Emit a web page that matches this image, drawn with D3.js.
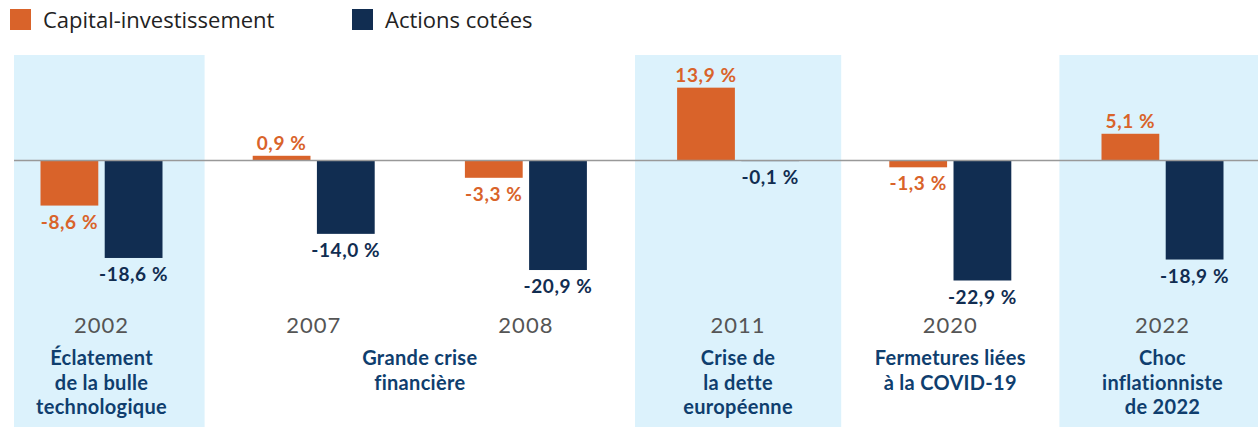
<!DOCTYPE html>
<html lang="fr">
<head>
<meta charset="utf-8">
<style>
  body { margin: 0; background: #fff; font-family: Lato, "Open Sans", sans-serif; }
  svg { display: block; }
</style>
</head>
<body>
<svg width="1258" height="427"></svg>
<script src="https://cdn.jsdelivr.net/npm/d3@7"></script>
<script>
// chart values
var years = ['2002', '2007', '2008', '2011', '2020', '2022']
var privateEquity = [-8.6, 0.9, -3.3, 13.9, -1.3, 5.1]
var publicEquity = [-18.6, -14.0, -20.9, -0.1, -22.9, -18.9]
var seriesNames = ['Capital-investissement', 'Actions cotées']
var highlighted = ['2002', '2011', '2022']
var eventYears = [['2002'], ['2007', '2008'], ['2011'], ['2020'], ['2022']]
var eventLines = [
  ['Éclatement', 'de la bulle', 'technologique'],
  ['Grande crise', 'financière'],
  ['Crise de', 'la dette', 'européenne'],
  ['Fermetures liées', 'à la COVID-19'],
  ['Choc', 'inflationniste', 'de 2022']
]

var colors = ['#d9632a', '#112d51']
var W = 1258, H = 427
var svg = d3.select('svg')

var fr = d3.formatLocale({decimal: ',', thousands: ' ', grouping: [3], currency: ['', ''], minus: '-'})
var fmt = fr.format('.1f')

var step = 212.2
var x0 = d3.scaleBand()
  .domain(years)
  .range([-4.6, -4.6 + step * years.length])
  .padding(0)

var x1 = d3.scaleBand()
  .domain(seriesNames)
  .range([x0.bandwidth() / 2 - 61, x0.bandwidth() / 2 + 61])
  .paddingInner(0.1)

var y = d3.scaleLinear()
  .domain([0, -22.9])
  .range([160.5, 280.5])

var z = d3.scaleOrdinal().domain(seriesNames).range(colors)

// highlight bands
svg.append('g').selectAll('rect')
  .data(highlighted)
  .enter().append('rect')
    .attr('x', function (d) { return Math.max(14, x0(d) + 3) })
    .attr('y', 55)
    .attr('width', function (d) {
      var a = Math.max(14, x0(d) + 3)
      var b = Math.min(W, x0(d) + x0.bandwidth() - 3)
      return b - a
    })
    .attr('height', H - 55)
    .attr('fill', '#dcf2fc')

// legend
var legend = svg.append('g')
var legendX = [10, 352]
seriesNames.forEach(function (name, i) {
  legend.append('rect')
    .attr('x', legendX[i]).attr('y', 9)
    .attr('width', 21).attr('height', 21)
    .attr('fill', z(name))
  legend.append('text')
    .attr('x', legendX[i] + 33).attr('y', 28)
    .attr('font-family', '"Open Sans", sans-serif')
    .attr('font-size', 22)
    .attr('fill', '#222')
    .text(name)
})

var rows = years.map(function (yr, i) {
  return {year: yr, values: [
    {key: seriesNames[0], value: privateEquity[i]},
    {key: seriesNames[1], value: publicEquity[i]}
  ]}
})

var groups = svg.append('g').selectAll('g')
  .data(rows)
  .enter().append('g')
    .attr('transform', function (d) { return 'translate(' + x0(d.year) + ',0)' })

groups.selectAll('rect')
  .data(function (d) { return d.values })
  .enter().append('rect')
    .attr('x', function (d) { return x1(d.key) })
    .attr('width', x1.bandwidth())
    .attr('y', function (d) { return Math.min(y(d.value), y(0)) })
    .attr('height', function (d) { return Math.max(0.6, Math.abs(y(d.value) - y(0))) })
    .attr('fill', function (d) { return z(d.key) })

// zero line
svg.append('line')
  .attr('x1', 14).attr('x2', W)
  .attr('y1', y(0)).attr('y2', y(0))
  .attr('stroke', '#999')
  .attr('stroke-width', 1.5)

groups.selectAll('text.val')
  .data(function (d) { return d.values })
  .enter().append('text')
    .attr('class', 'val')
    .attr('x', function (d) { return x1(d.key) + x1.bandwidth() / 2 })
    .attr('y', function (d) { return d.value >= 0 ? y(d.value) - 6 : y(d.value) + 23 })
    .attr('text-anchor', 'middle')
    .attr('font-size', 19)
    .attr('font-weight', 'bold')
    .attr('letter-spacing', 0.6)
    .attr('fill', function (d) { return z(d.key) })
    .text(function (d) { return fmt(d.value) + ' %' })

// year labels
groups.append('text')
  .attr('x', x0.bandwidth() / 2)
  .attr('y', 333)
  .attr('text-anchor', 'middle')
  .attr('font-size', 22)
  .attr('letter-spacing', 1)
  .attr('fill', '#555')
  .text(function (d) { return d.year })

// event labels
var ev = svg.append('g').selectAll('text')
  .data(eventLines)
  .enter().append('text')
    .attr('text-anchor', 'middle')
    .attr('font-size', 20)
    .attr('font-weight', 'bold')
    .attr('letter-spacing', 0.3)
    .attr('fill', '#0f3e6e')
    .attr('transform', function (d, i) {
      var cx = d3.mean(eventYears[i], function (yr) { return x0(yr) + x0.bandwidth() / 2 })
      return 'translate(' + cx + ',0)'
    })

ev.selectAll('tspan')
  .data(function (d) { return d })
  .enter().append('tspan')
    .attr('x', 0)
    .attr('y', function (d, i) { return 365 + i * 24.5 })
    .text(function (d) { return d })
</script>
</body>
</html>
